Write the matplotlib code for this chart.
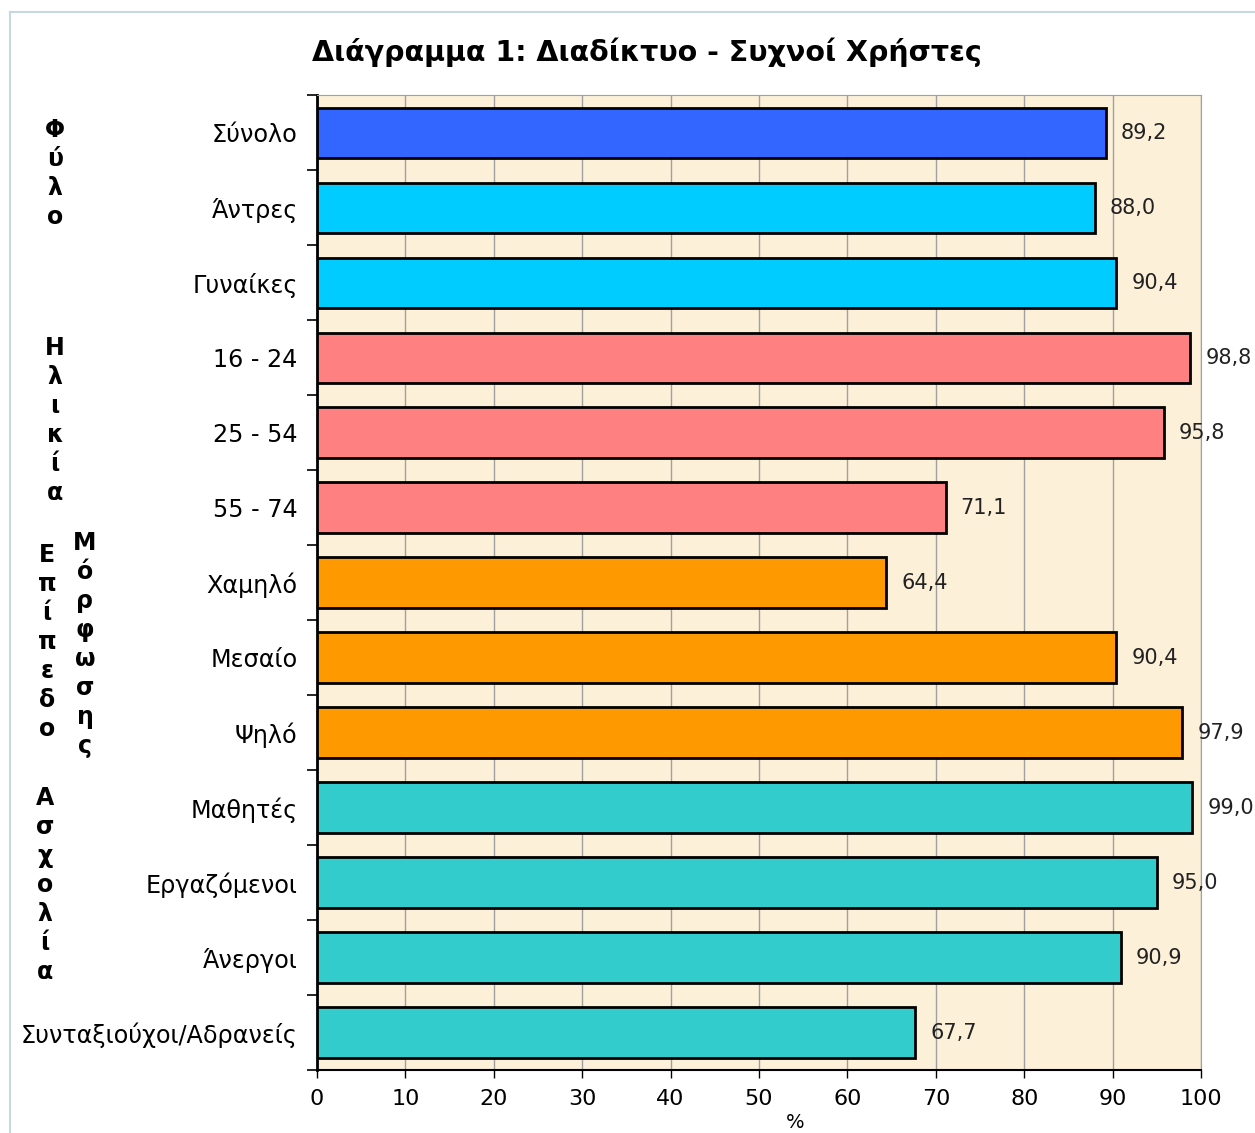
import numpy as np
import matplotlib.pyplot as plt
from matplotlib.lines import Line2D

plt.rcParams['font.family'] = ['DejaVu Sans']

# Data
categories = ["Σύνολο", "Άντρες", "Γυναίκες", "16 - 24", "25 - 54", "55 - 74",
              "Χαμηλό", "Μεσαίο", "Ψηλό", "Μαθητές", "Εργαζόμενοι", "Άνεργοι",
              "Συνταξιούχοι/Αδρανείς"]
values = [89.2, 88.0, 90.4, 98.8, 95.8, 71.1, 64.4, 90.4, 97.9, 99.0, 95.0, 90.9, 67.7]
colors = ["#3366FF", "#00CCFF", "#00CCFF", "#FF8080", "#FF8080", "#FF8080",
          "#FF9900", "#FF9900", "#FF9900", "#33CCCC", "#33CCCC", "#33CCCC", "#33CCCC"]
xticks = np.arange(0, 101, 10)

fig = plt.figure(figsize=(12.55, 11.33), dpi=100)
ax = fig.add_axes([0.2526, 0.0556, 0.7044, 0.8604])
ax.set_facecolor("#FCF0D9")

y = np.arange(len(categories))
ax.barh(y, values, height=0.67, color=colors, edgecolor="black", linewidth=2, zorder=3)

for yi, v in zip(y, values):
    ax.text(v + 1.7, yi, f"{v:.1f}".replace(".", ","), va="center", ha="left",
            fontsize=15, color="#222222", clip_on=False, zorder=4)

ax.set_xlim(0, 100)
ax.set_ylim(len(categories) - 0.5, -0.5)
ax.set_xticks(xticks)
ax.set_xticklabels([str(t) for t in xticks], fontsize=16)
ax.set_yticks(y)
ax.set_yticklabels(categories, fontsize=17.2)
ax.tick_params(axis="y", which="major", length=0, pad=14)
ax.set_yticks(np.arange(-0.5, len(categories), 1), minor=True)
ax.tick_params(axis="y", which="minor", length=7, width=1.2, direction="out")
ax.tick_params(axis="x", which="major", length=6, width=1, direction="out", pad=8)
ax.xaxis.grid(True, color="#A0A0A0", linewidth=1, zorder=0)
ax.set_axisbelow(True)

ax.spines["left"].set_linewidth(2)
ax.spines["bottom"].set_linewidth(1.5)
ax.spines["top"].set_color("#A0A0A0")
ax.spines["right"].set_color("#A0A0A0")

fig.text(795 / 1255, 1 - 1122 / 1133, "%", ha="center", va="center", fontsize=14)

fig.text(647 / 1255, 1 - 52 / 1133, "Διάγραμμα 1: Διαδίκτυο - Συχνοί Χρήστες", ha="center",
         va="center", fontsize=20.5, fontweight="bold")

# vertical group labels
groups = [("Φύλο", 55, 130), ("Ηλικία", 55, 348), ("Επίπεδο", 47, 555),
          ("Μόρφωσης", 85, 543), ("Ασχολία", 45, 798)]
for word, px, py in groups:
    for i, ch in enumerate(word):
        fig.text(px / 1255, 1 - (py + i * 29) / 1133, ch, ha="center", va="center",
                 fontsize=17, fontweight="bold")

# thin frame around the figure
fig.add_artist(Line2D([10 / 1255, 10 / 1255], [0, 1 - 12 / 1133], color="#C9D6E3", lw=1.5))
fig.add_artist(Line2D([10 / 1255, 1], [1 - 12 / 1133, 1 - 12 / 1133], color="#C9D6E3", lw=1.5))

fig.savefig("out.png", dpi=100, facecolor="white")
